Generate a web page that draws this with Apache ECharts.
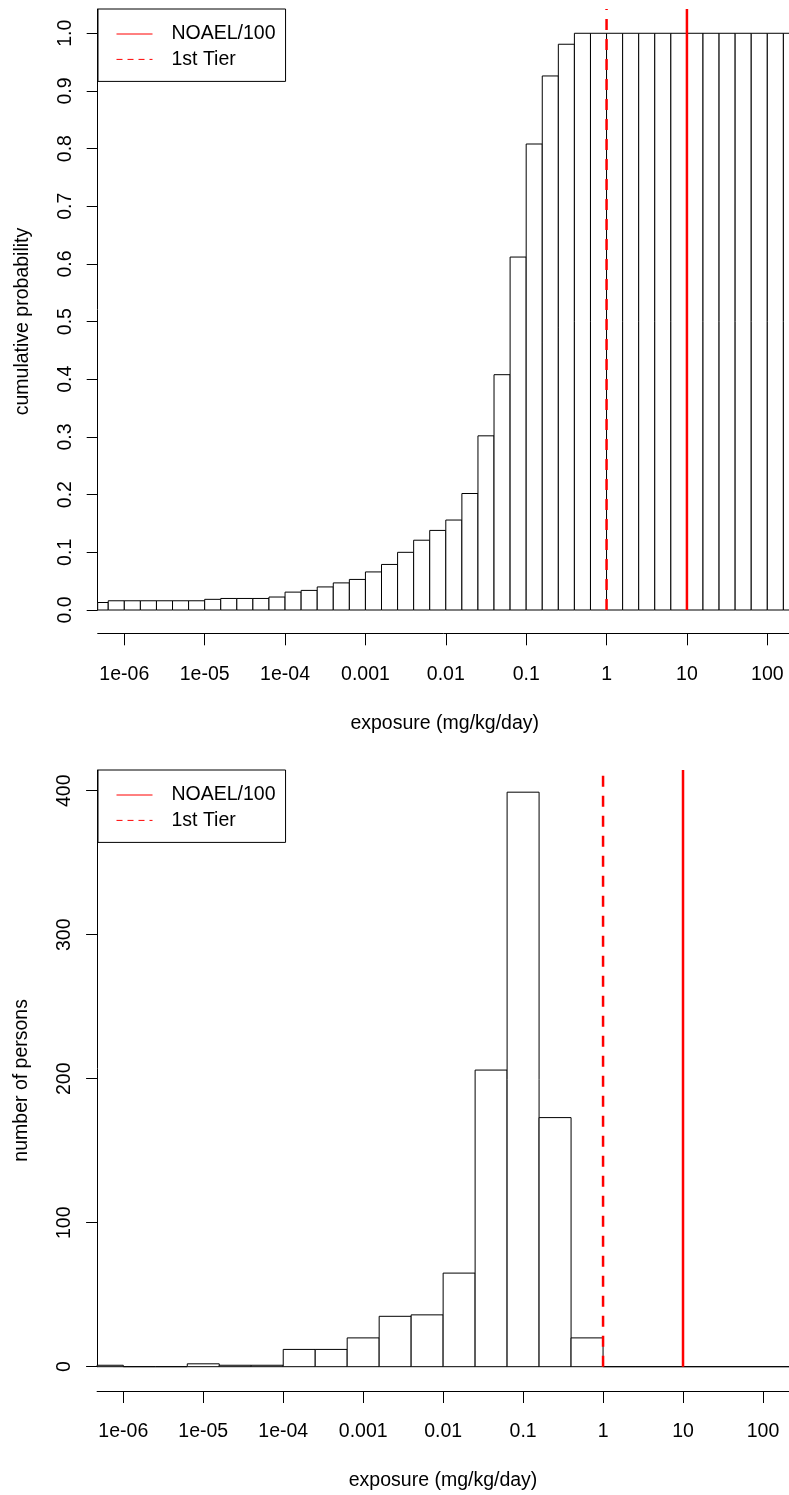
<!DOCTYPE html>
<html>
<head>
<meta charset="utf-8">
<script src="https://cdn.jsdelivr.net/npm/echarts@6/dist/echarts.min.js"></script>
<style>
html,body{margin:0;padding:0;background:#ffffff;}
#chart{width:789px;height:1495px;}
</style>
</head>
<body>
<div id="chart"></div>
<script>
// ---- data (x in log10 of exposure, mg/kg/day) ----
const topBreaks = [-6.4,-6.2,-6.0,-5.8,-5.6,-5.4,-5.2,-5.0,-4.8,-4.6,-4.4,-4.2,-4.0,-3.8,-3.6,-3.4,-3.2,-3.0,-2.8,-2.6,-2.4,-2.2,-2.0,-1.8,-1.6,-1.4,-1.2,-1.0,-0.8,-0.6,-0.4,-0.2,0.0,0.2,0.4,0.6,0.8,1.0,1.2,1.4,1.6,1.8,2.0,2.2,2.4];
const cumProb = [0.013,0.016,0.016,0.016,0.016,0.016,0.016,0.0185,0.020,0.020,0.020,0.0225,0.031,0.034,0.040,0.047,0.053,0.066,0.079,0.100,0.121,0.138,0.156,0.202,0.302,0.408,0.612,0.808,0.926,0.981,1,1,1,1,1,1,1,1,1,1,1,1,1,1];
const bottomBreaks = [-6.4,-6.0,-5.6,-5.2,-4.8,-4.4,-4.0,-3.6,-3.2,-2.8,-2.4,-2.0,-1.6,-1.2,-0.8,-0.4,0.0,0.4,0.8,1.2,1.6,2.0,2.4];
const persons = [1,0,0,2,1,1,12,12,20,35,36,65,206,399,173,20,0,0,0,0,0,0];
const xTickValues = [-6,-5,-4,-3,-2,-1,0,1,2];
const xTickLabels = ['1e-06','1e-05','1e-04','0.001','0.01','0.1','1','10','100'];
const probTicks = [0,0.1,0.2,0.3,0.4,0.5,0.6,0.7,0.8,0.9,1.0];
const personTicks = [0,100,200,300,400];
const noael100 = 10;   // NOAEL/100 exposure
const firstTier = 1;   // 1st Tier exposure

// ---- axis ranges ----
const TOP_X = [-6.331, 2.3035], TOP_YMAX = 1.0421;
const BOT_X = [-6.3277, 2.3255], BOT_YMAX = 414.4;

const FONT = 'Liberation Sans, Arial, Helvetica, sans-serif';
const FS = 19.5;

function binData(breaks, vals) {
  return vals.map((v, i) => [breaks[i], breaks[i + 1], v]);
}
function barRender(xr) {
  return function (params, api) {
    const x0 = Math.max(api.value(0), xr[0]);
    const x1 = Math.min(api.value(1), xr[1]);
    const v = api.value(2);
    const pTop = api.coord([x0, v]);
    const pBot = api.coord([x1, 0]);
    return {
      type: 'polygon',
      shape: { points: [[pTop[0], pBot[1]], [pTop[0], pTop[1]], [pBot[0], pTop[1]], [pBot[0], pBot[1]]] },
      style: { fill: '#ffffff', stroke: '#000000', lineWidth: 1 }
    };
  };
}
const labelMap = {};
xTickValues.forEach((v, i) => { labelMap[v] = xTickLabels[i]; });

function xAxisCfg(gi, xr, offset) {
  return {
    gridIndex: gi, type: 'value', min: xr[0], max: xr[1], offset: offset,
    axisLine: { show: true, onZero: false, lineStyle: { color: '#000', width: 1 } },
    axisTick: { show: true, length: 12, customValues: xTickValues, lineStyle: { color: '#000', width: 1 } },
    axisLabel: { customValues: xTickValues, formatter: v => labelMap[Math.round(v)], fontSize: FS, color: '#000', margin: 31, fontFamily: FONT },
    splitLine: { show: false },
    name: 'exposure (mg/kg/day)', nameLocation: 'middle', nameGap: 80, nameMoveOverlap: false,
    nameTextStyle: { fontSize: FS, color: '#000', fontFamily: FONT }
  };
}
function yAxisCfg(gi, ymax, ticks, fmt, name) {
  return {
    gridIndex: gi, type: 'value', min: 0, max: ymax,
    axisLine: { show: true, onZero: false, lineStyle: { color: '#000', width: 1 } },
    axisTick: { show: true, length: 11, customValues: ticks, lineStyle: { color: '#000', width: 1 } },
    axisLabel: { customValues: ticks, formatter: fmt, rotate: 90, fontSize: FS, color: '#000', margin: 22, fontFamily: FONT },
    splitLine: { show: false },
    name: name, nameLocation: 'middle', nameGap: 65, nameRotate: 90, nameMoveOverlap: false,
    nameTextStyle: { fontSize: FS, color: '#000', fontFamily: FONT, padding: [0, 24, 0, 0] }
  };
}
function vLine(name, gi, xVal, ymax, dashed) {
  return {
    type: 'line', name: name, xAxisIndex: gi, yAxisIndex: gi,
    data: [[Math.log10(xVal), 0], [Math.log10(xVal), ymax]],
    symbol: 'none', silent: true,
    lineStyle: { color: '#ff0000', width: 2.5, type: dashed ? [11, 9] : 'solid' },
    itemStyle: { color: '#ff0000' }
  };
}
function legendCfg(top) {
  return {
    orient: 'vertical', left: 98, top: top,
    backgroundColor: '#ffffff', borderColor: '#000', borderWidth: 1, borderRadius: 0,
    padding: [15, 10, 12, 18],
    itemWidth: 36, itemHeight: 14, itemGap: 5.4,
    textStyle: { fontSize: FS, lineHeight: 20, color: '#000', fontFamily: FONT, padding: [0, 0, 0, 14] },
    itemStyle: { opacity: 0 },
    data: [
      { name: 'NOAEL/100', lineStyle: { width: 1, type: 'solid' }, itemStyle: { opacity: 0 } },
      { name: '1st Tier', lineStyle: { width: 1, type: [6, 5] }, itemStyle: { opacity: 0 } }
    ],
    selectedMode: false
  };
}

const chart = echarts.init(document.getElementById('chart'), null, { renderer: 'canvas' });
chart.setOption({
  animation: false,
  backgroundColor: '#ffffff',
  textStyle: { fontFamily: FONT },
  grid: [
    { left: 97.7, top: 9, width: 694, height: 601, outerBoundsMode: 'none', containLabel: false },
    { left: 97.1, top: 770, width: 691.9, height: 596.7, outerBoundsMode: 'none', containLabel: false }
  ],
  xAxis: [xAxisCfg(0, TOP_X, 23.3), xAxisCfg(1, BOT_X, 24.3)],
  yAxis: [
    yAxisCfg(0, TOP_YMAX, probTicks, v => v.toFixed(1), 'cumulative probability'),
    yAxisCfg(1, BOT_YMAX, personTicks, v => String(Math.round(v)), 'number of persons')
  ],
  legend: [legendCfg(9), legendCfg(770)],
  series: [
    { type: 'custom', xAxisIndex: 0, yAxisIndex: 0, renderItem: barRender(TOP_X), data: binData(topBreaks, cumProb), encode: { x: [0, 1], y: 2 }, silent: true },
    { type: 'custom', xAxisIndex: 1, yAxisIndex: 1, renderItem: barRender(BOT_X), data: binData(bottomBreaks, persons), encode: { x: [0, 1], y: 2 }, silent: true },
    vLine('NOAEL/100', 0, noael100, TOP_YMAX, false),
    vLine('1st Tier', 0, firstTier, TOP_YMAX, true),
    vLine('NOAEL/100', 1, noael100, BOT_YMAX, false),
    vLine('1st Tier', 1, firstTier, BOT_YMAX, true)
  ]
});
</script>
</body>
</html>
